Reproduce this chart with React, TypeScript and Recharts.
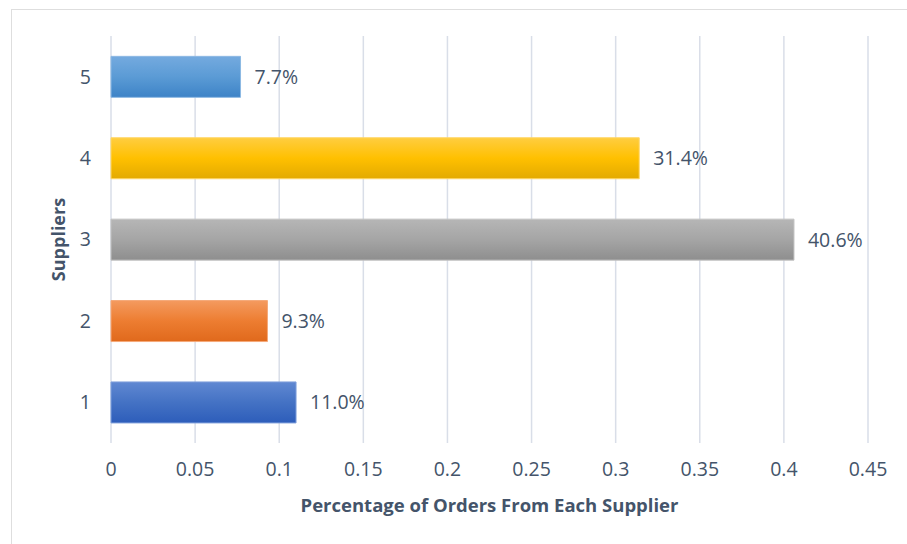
import { BarChart, Bar, Cell, XAxis, YAxis, CartesianGrid, LabelList } from 'recharts';

const suppliers = ['1', '2', '3', '4', '5'];
const orderShare = [0.11, 0.093, 0.406, 0.314, 0.077];
const xTicks = [0, 0.05, 0.1, 0.15, 0.2, 0.25, 0.3, 0.35, 0.4, 0.45];

// top, middle, bottom, edge for each supplier bar
const BAR_COLORS = [
  ['#6088d2', '#4472c4', '#2d5dba', '#7f9fdb'],
  ['#f49a5f', '#ed7d31', '#e0691c', '#f5a878'],
  ['#b6b6b6', '#a5a5a5', '#8e8e8e', '#c2c2c2'],
  ['#ffcd40', '#ffc000', '#e3aa00', '#ffd666'],
  ['#74aadf', '#5b9bd5', '#3d83c7', '#8db9e3'],
];

const FONT = "'Open Sans', 'Noto Sans', sans-serif";
const TEXT = '#44546a';
const GRID = '#d9dee8';

const data = suppliers.map((s, i) => ({ supplier: s, share: orderShare[i] }));

const fmtPct = (v: number) => `${(v * 100).toFixed(1)}%`;

function SuppliersLabel(props: any) {
  const vb = props.viewBox || {};
  const cx = vb.x + 7;
  const cy = vb.y + vb.height / 2;
  return (
    <text
      x={cx}
      y={cy}
      transform={`rotate(-90 ${cx} ${cy})`}
      textAnchor="middle"
      dominantBaseline="central"
      fill={TEXT}
      fontFamily={FONT}
      fontSize={18}
      fontWeight={700}
    >
      Suppliers
    </text>
  );
}

export default function App() {
  return (
    <div style={{ position: 'absolute', left: 0, top: 0, width: 907, height: 544, background: '#fff', overflow: 'hidden' }}>
      <div
        style={{
          position: 'absolute',
          left: 11,
          top: 9,
          width: 920,
          height: 560,
          borderTop: '1px solid #dedede',
          borderLeft: '1px solid #dedede',
        }}
      />
      <div style={{ position: 'absolute', left: 0, top: 0 }}>
        <BarChart
          width={907}
          height={544}
          data={data}
          layout="vertical"
          margin={{ top: 36, right: 39, bottom: 31, left: 51 }}
          barCategoryGap="25%"
        >
          <defs>
            {BAR_COLORS.map((c, i) => (
              <linearGradient key={i} id={`barGrad${i}`} x1="0" y1="0" x2="0" y2="1">
                <stop offset="0%" stopColor={c[0]} />
                <stop offset="50%" stopColor={c[1]} />
                <stop offset="100%" stopColor={c[2]} />
              </linearGradient>
            ))}
          </defs>
          <CartesianGrid horizontal={false} stroke={GRID} strokeWidth={1.5} />
          <XAxis
            type="number"
            domain={[0, 0.45]}
            ticks={xTicks}
            interval={0}
            axisLine={false}
            tickLine={false}
            tickMargin={13}
            height={70}
            tick={{ fill: TEXT, fontSize: 19.5, fontFamily: FONT }}
            label={{
              value: 'Percentage of Orders From Each Supplier',
              position: 'insideBottom',
              offset: 1,
              fill: TEXT,
              fontSize: 18.5,
              fontWeight: 700,
              fontFamily: FONT,
            }}
          />
          <YAxis
            type="category"
            dataKey="supplier"
            reversed
            width={60}
            axisLine={false}
            tickLine={false}
            tickMargin={14}
            tick={{ fill: TEXT, fontSize: 19.5, fontFamily: FONT }}
            label={<SuppliersLabel />}
          />
          <Bar dataKey="share" isAnimationActive={false} strokeWidth={1}>
            {data.map((_, i) => (
              <Cell key={`c-${i}`} fill={`url(#barGrad${i})`} stroke={BAR_COLORS[i][3]} />
            ))}
            <LabelList
              dataKey="share"
              position="right"
              offset={14}
              formatter={(v: any) => fmtPct(Number(v))}
              fill={TEXT}
              fontSize={19.5}
              fontFamily={FONT}
            />
          </Bar>
        </BarChart>
      </div>
    </div>
  );
}
